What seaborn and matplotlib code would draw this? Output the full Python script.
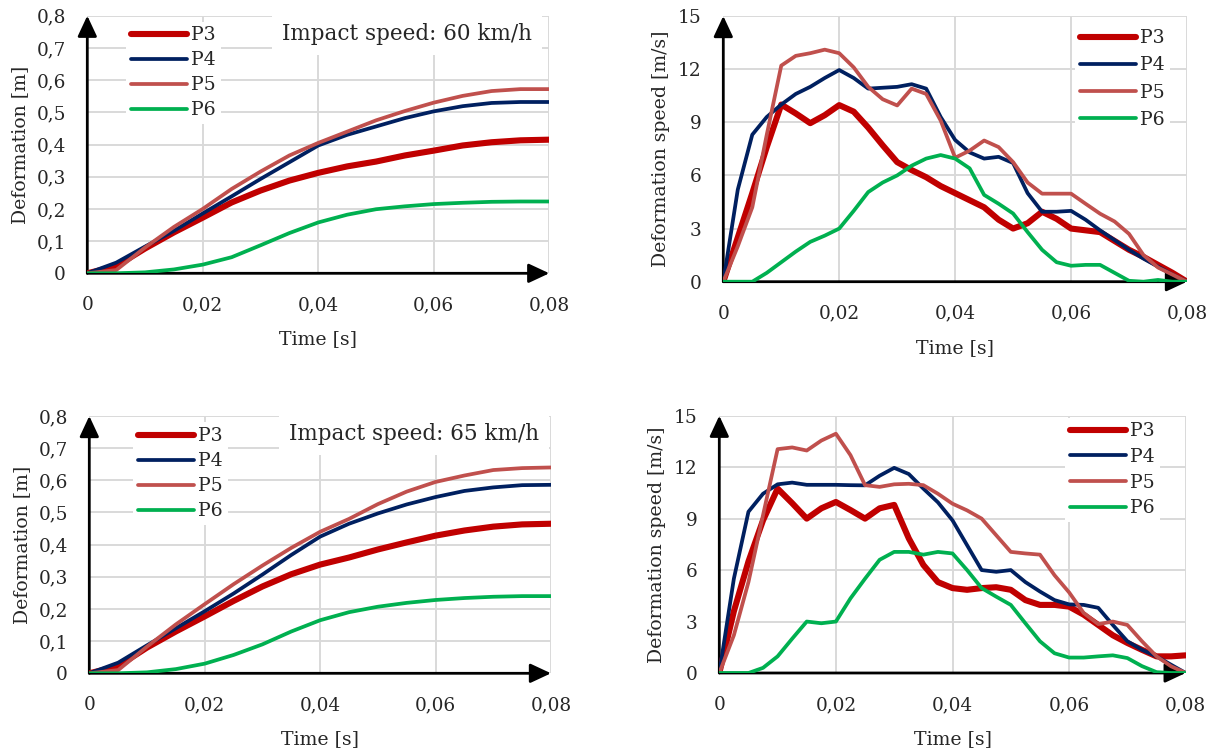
import numpy as np
import pandas as pd
import matplotlib
matplotlib.use("Agg")
import matplotlib.pyplot as plt
from matplotlib.ticker import FixedLocator, FuncFormatter
import seaborn as sns

# ---------------- data ----------------
series_names = ["P3", "P4", "P5", "P6"]
series_colors = ["#c00000", "#002060", "#c0504d", "#00b050"]

# deformation [m], time step 0.005 s
t_def = [0.0, 0.005, 0.01, 0.015, 0.02, 0.025, 0.03, 0.035, 0.04,
         0.045, 0.05, 0.055, 0.06, 0.065, 0.07, 0.075, 0.08]

def60_P3 = [0, 0.022, 0.077, 0.127, 0.173, 0.220, 0.257, 0.288, 0.312, 0.332, 0.347, 0.366, 0.381, 0.397, 0.407, 0.413, 0.415]
def60_P4 = [0, 0.033, 0.083, 0.132, 0.186, 0.239, 0.293, 0.345, 0.397, 0.430, 0.456, 0.482, 0.503, 0.519, 0.529, 0.532, 0.532]
def60_P5 = [0, 0.010, 0.080, 0.144, 0.200, 0.262, 0.316, 0.366, 0.405, 0.440, 0.475, 0.504, 0.530, 0.551, 0.566, 0.572, 0.572]
def60_P6 = [0, 0.000, 0.003, 0.012, 0.027, 0.050, 0.087, 0.125, 0.158, 0.182, 0.199, 0.208, 0.215, 0.219, 0.222, 0.223, 0.223]

def65_P3 = [0, 0.022, 0.080, 0.130, 0.177, 0.225, 0.270, 0.308, 0.338, 0.360, 0.385, 0.407, 0.428, 0.444, 0.456, 0.463, 0.465]
def65_P4 = [0, 0.033, 0.087, 0.140, 0.193, 0.248, 0.307, 0.368, 0.425, 0.465, 0.497, 0.525, 0.548, 0.567, 0.578, 0.585, 0.586]
def65_P5 = [0, 0.010, 0.083, 0.152, 0.215, 0.277, 0.335, 0.390, 0.440, 0.480, 0.526, 0.565, 0.595, 0.615, 0.632, 0.638, 0.640]
def65_P6 = [0, 0.000, 0.003, 0.013, 0.030, 0.057, 0.090, 0.130, 0.165, 0.190, 0.207, 0.219, 0.228, 0.234, 0.238, 0.240, 0.240]

# deformation speed [m/s], time step 0.0025 s
t_spd = [0.0, 0.0025, 0.005, 0.0075, 0.01, 0.0125, 0.015, 0.0175, 0.02, 0.0225,
         0.025, 0.0275, 0.03, 0.0325, 0.035, 0.0375, 0.04, 0.0425, 0.045, 0.0475,
         0.05, 0.0525, 0.055, 0.0575, 0.06, 0.0625, 0.065, 0.0675, 0.07, 0.0725,
         0.075, 0.0775, 0.08]

spd60_P3 = [0, 2.5, 5.0, 7.6, 10.0, 9.5, 8.95, 9.4, 9.97, 9.6,
            8.7, 7.7, 6.75, 6.3, 5.9, 5.4, 5.0, 4.6, 4.2, 3.5,
            3.0, 3.3, 3.95, 3.55, 3.0, 2.9, 2.8, 2.3, 1.8, 1.4,
            0.95, 0.5, 0]
spd60_P4 = [0, 5.2, 8.3, 9.3, 10.0, 10.6, 11.0, 11.5, 11.95, 11.5,
            10.9, 10.95, 11.0, 11.15, 10.9, 9.3, 8.0, 7.3, 6.95, 7.05,
            6.7, 5.0, 3.95, 3.95, 4.0, 3.5, 2.9, 2.35, 1.8, 1.3,
            0.85, 0.4, 0]
spd60_P5 = [0, 2.0, 4.2, 8.3, 12.2, 12.75, 12.9, 13.1, 12.9, 12.1,
            11.0, 10.3, 9.95, 10.9, 10.6, 9.1, 7.0, 7.4, 7.97, 7.6,
            6.75, 5.6, 4.97, 4.97, 4.97, 4.4, 3.84, 3.4, 2.7, 1.5,
            0.8, 0.4, 0]
spd60_P6 = [0, 0, 0, 0.5, 1.1, 1.7, 2.25, 2.6, 3.0, 4.0,
            5.06, 5.6, 6.0, 6.55, 6.95, 7.15, 6.95, 6.4, 4.9, 4.4,
            3.85, 2.8, 1.8, 1.1, 0.9, 0.95, 0.95, 0.5, 0.05, 0,
            0.1, 0, 0]

spd65_P3 = [0, 3.6, 6.5, 8.9, 10.75, 9.9, 9.0, 9.6, 9.97, 9.5,
            9.0, 9.6, 9.8, 7.85, 6.3, 5.3, 4.95, 4.85, 4.95, 5.0,
            4.85, 4.25, 3.97, 3.97, 3.87, 3.4, 2.8, 2.2, 1.75, 1.35,
            0.97, 0.97, 1.03]
spd65_P4 = [0, 5.5, 9.4, 10.45, 11.0, 11.1, 10.97, 10.97, 10.97, 10.95,
            10.94, 11.5, 11.96, 11.6, 10.75, 9.95, 8.9, 7.45, 6.0, 5.9,
            6.0, 5.3, 4.75, 4.25, 4.0, 3.97, 3.8, 2.8, 1.85, 1.35,
            0.97, 0.48, 0]
spd65_P5 = [0, 2.2, 5.3, 9.2, 13.05, 13.15, 12.97, 13.55, 13.95, 12.7,
            10.95, 10.85, 11.0, 11.03, 10.95, 10.45, 9.87, 9.48, 9.0, 8.03,
            7.06, 6.97, 6.9, 5.7, 4.7, 3.5, 2.85, 3.0, 2.8, 1.85,
            0.97, 0.39, 0]
spd65_P6 = [0, 0, 0, 0.3, 0.97, 2.0, 3.0, 2.9, 3.0, 4.35,
            5.5, 6.6, 7.06, 7.06, 6.9, 7.06, 6.97, 6.0, 4.95, 4.45,
            3.97, 2.9, 1.85, 1.15, 0.9, 0.9, 0.97, 1.03, 0.87, 0.4,
            0.05, 0, 0]

x_ticks = [0, 0.02, 0.04, 0.06, 0.08]
def_ticks = [0, 0.1, 0.2, 0.3, 0.4, 0.5, 0.6, 0.7, 0.8]
spd_ticks = [0, 3, 6, 9, 12, 15]
impact_labels = ["Impact speed: 60 km/h", "Impact speed: 65 km/h"]

# ---------------- style ----------------
sns.set_theme(style="white")
plt.rcParams["font.family"] = ["DejaVu Serif", "Liberation Serif"]

W, H = 1218, 754
fig = plt.figure(figsize=(W / 100, H / 100), dpi=100)
TXT = "#262626"
FS = 13.3


def add_ax(l, t, r, b):
    return fig.add_axes([l / W, 1 - b / H, (r - l) / W, (b - t) / H])


def comma_fmt(dec):
    def f(v, pos):
        if abs(v) < 1e-12:
            return "0"
        return f"{v:.{dec}f}".replace(".", ",")
    return FuncFormatter(f)


def make_panel(ax, t, ys, ylim, yticks, ydec, ylabel, leg_px, leg_spacing,
               ylabelpad):
    for name, col, y in zip(series_names, series_colors, ys):
        lw = 4.4 if name == "P3" else 2.7
        df = pd.DataFrame({"t": t, "v": y})
        sns.lineplot(data=df, x="t", y="v", ax=ax, color=col, linewidth=lw,
                     label=name, estimator=None, sort=False,
                     solid_capstyle="round", solid_joinstyle="round", zorder=3)
    ax.set_xlim(0, 0.08)
    ax.set_ylim(*ylim)
    ax.xaxis.set_major_locator(FixedLocator(x_ticks))
    ax.yaxis.set_major_locator(FixedLocator(yticks))
    ax.xaxis.set_major_formatter(comma_fmt(2))
    ax.yaxis.set_major_formatter(comma_fmt(ydec))
    ax.grid(True, color="#d9d9d9", linewidth=1.4)
    ax.set_axisbelow(True)
    for s in ax.spines.values():
        s.set_visible(False)
    ax.tick_params(length=0, labelsize=FS, colors=TXT)
    ax.tick_params(axis="x", pad=16.5)
    ax.tick_params(axis="y", pad=15.5)
    ax.set_xlabel("Time [s]", fontsize=FS + 0.3, color=TXT, labelpad=11.5)
    ax.set_ylabel(ylabel, fontsize=FS + 0.3, color=TXT, labelpad=ylabelpad)
    arrow = dict(arrowstyle="-|>,head_length=0.9,head_width=0.42",
                 color="black", lw=2.0, mutation_scale=14,
                 shrinkA=0, shrinkB=0)
    ax.annotate("", xy=(0, 1), xytext=(0, 0), xycoords="axes fraction",
                arrowprops=arrow, annotation_clip=False, zorder=2)
    ax.annotate("", xy=(1, 0), xytext=(0, 0), xycoords="axes fraction",
                arrowprops=arrow, annotation_clip=False, zorder=2)
    handles, labels = ax.get_legend_handles_labels()
    leg = ax.legend(handles, labels, loc="upper left",
                    bbox_to_anchor=(leg_px[0] / W, 1 - leg_px[1] / H),
                    bbox_transform=fig.transFigure,
                    frameon=True, facecolor="white", edgecolor="none",
                    framealpha=1, fancybox=False, fontsize=FS + 0.3,
                    handlelength=3.0, handletextpad=0.2,
                    labelspacing=leg_spacing, borderpad=0.25,
                    borderaxespad=0)
    for txt in leg.get_texts():
        txt.set_color(TXT)
    return ax


ax1 = add_ax(87.3, 15.7, 549.3, 273.3)
make_panel(ax1, t_def, [def60_P3, def60_P4, def60_P5, def60_P6], (0, 0.8),
           def_ticks, 1, "Deformation [m]", (126, 21.5), 0.37, 5)
fig.text(282 / W, 1 - 34 / H, impact_labels[0], fontsize=15.5, color=TXT,
         va="center", ha="left", zorder=5,
         bbox=dict(facecolor="white", edgecolor="none", pad=7))

ax2 = add_ax(723.3, 16, 1187, 281.7)
make_panel(ax2, t_spd, [spd60_P3, spd60_P4, spd60_P5, spd60_P6], (0, 15),
           spd_ticks, 0, "Deformation speed [m/s]", (1075, 24.7), 0.48, 6)

ax3 = add_ax(89.3, 416, 551, 673.3)
make_panel(ax3, t_def, [def65_P3, def65_P4, def65_P5, def65_P6], (0, 0.8),
           def_ticks, 1, "Deformation [m]", (133, 422.5), 0.37, 5)
fig.text(289 / W, 1 - 434 / H, impact_labels[1], fontsize=15.5, color=TXT,
         va="center", ha="left", zorder=5,
         bbox=dict(facecolor="white", edgecolor="none", pad=7))

ax4 = add_ax(719.3, 415.7, 1185.7, 673)
make_panel(ax4, t_spd, [spd65_P3, spd65_P4, spd65_P5, spd65_P6], (0, 15),
           spd_ticks, 0, "Deformation speed [m/s]", (1065, 417.5), 0.41, 6)

fig.savefig("out.png", dpi=100)
